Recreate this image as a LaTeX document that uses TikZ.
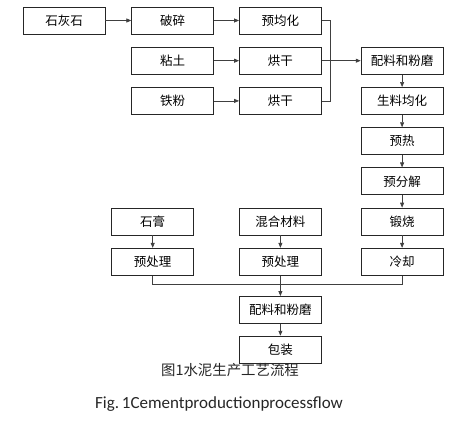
\documentclass[tikz,border=0pt]{standalone}
\usepackage{fontspec}
\setmainfont{Carlito}
\newfontfamily\cjk{Noto Sans CJK SC}
\usetikzlibrary{positioning,arrows.meta,calc}

\begin{document}
\begin{tikzpicture}[x=1pt, y=-1pt, node distance={12.5pt and 25pt},
  box/.style = {draw=black!85, line width=0.7pt, minimum width=82pt, minimum height=27pt,
                inner sep=0pt, font=\cjk\fontsize{12.5}{14}\selectfont},
  line/.style = {draw=black!75, line width=0.7pt},
  arr/.style = {line, -{Triangle[length=5pt,width=4pt]}}]
      \useasboundingbox (0,0) rectangle (454,425);
      \node[box] (slh) at (64,20.5) {石灰石};
      \node[box] (ps) [right =26pt of slh] {破碎};
      \node[box] (yjh) [right =of ps] {预均化};
      \node[box] (nt) [below =of ps] {粘土};
      \node[box] (tf) [below =of nt] {铁粉};
      \node[box] (hg1) [right =of nt] {烘干};
      \node[box] (hg2) [right =of tf] {烘干};
      %% right column
      \node[box] (pl) [right =39pt of hg1] {配料和粉磨};
      \node[box] (sl) [below =of pl] {生料均化};
      \node[box] (yr) [below =of sl] {预热};
      \node[box] (yfj) [below =of yr] {预分解};
      \node[box] (ds) [below =of yfj] {锻烧};
      \node[box] (lq) [below =of ds] {冷却};
      %% bottom rows
      \node[box] (hh) [left =39pt of ds] {混合材料};
      \node[box] (sg) [left =45pt of hh] {石膏};
      \node[box] (yc1) [below =of sg] {预处理};
      \node[box] (yc2) [below =of hh] {预处理};
      \node[box] (pl2) [below =20.5pt of yc2] {配料和粉磨};
      \node[box] (bz) [below =12pt of pl2] {包装};
      \node[font=\cjk\fontsize{14.4}{16}\selectfont, text=black!85] (cap1) at (230,370) {图1水泥生产工艺流程};
      \node[font=\fontsize{17}{19}\selectfont, text=black!85] (cap2) at (219,404) {Fig.\,1Cementproductionprocessflow};
      \coordinate (mg) at ($(hg1.east)!0.23!(pl.west)$);
      \coordinate (bus) at ($(yc2.south)!0.43!(pl2.north)$);
      \draw[arr] (slh) -- (ps);
      \draw[arr] (ps) -- (yjh);
      \draw[arr] (nt) -- (hg1);
      \draw[arr] (tf) -- (hg2);
      \draw[line] (yjh.east) -| (mg);
      \draw[line] (hg2.east) -| (mg);
      \draw[arr] (hg1) -- (pl);
      \draw[arr] (pl) -- (sl);
      \draw[arr] (sl) -- (yr);
      \draw[arr] (yr) -- (yfj);
      \draw[arr] (yfj) -- (ds);
      \draw[arr] (ds) -- (lq);
      \draw[arr] (sg) -- (yc1);
      \draw[arr] (hh) -- (yc2);
      \draw[line] (yc1.south) |- (bus);
      \draw[line] (lq.south) |- (bus);
      \draw[arr] (yc2) -- (pl2);
      \draw[arr] (pl2) -- (bz);
\end{tikzpicture}
\end{document}
